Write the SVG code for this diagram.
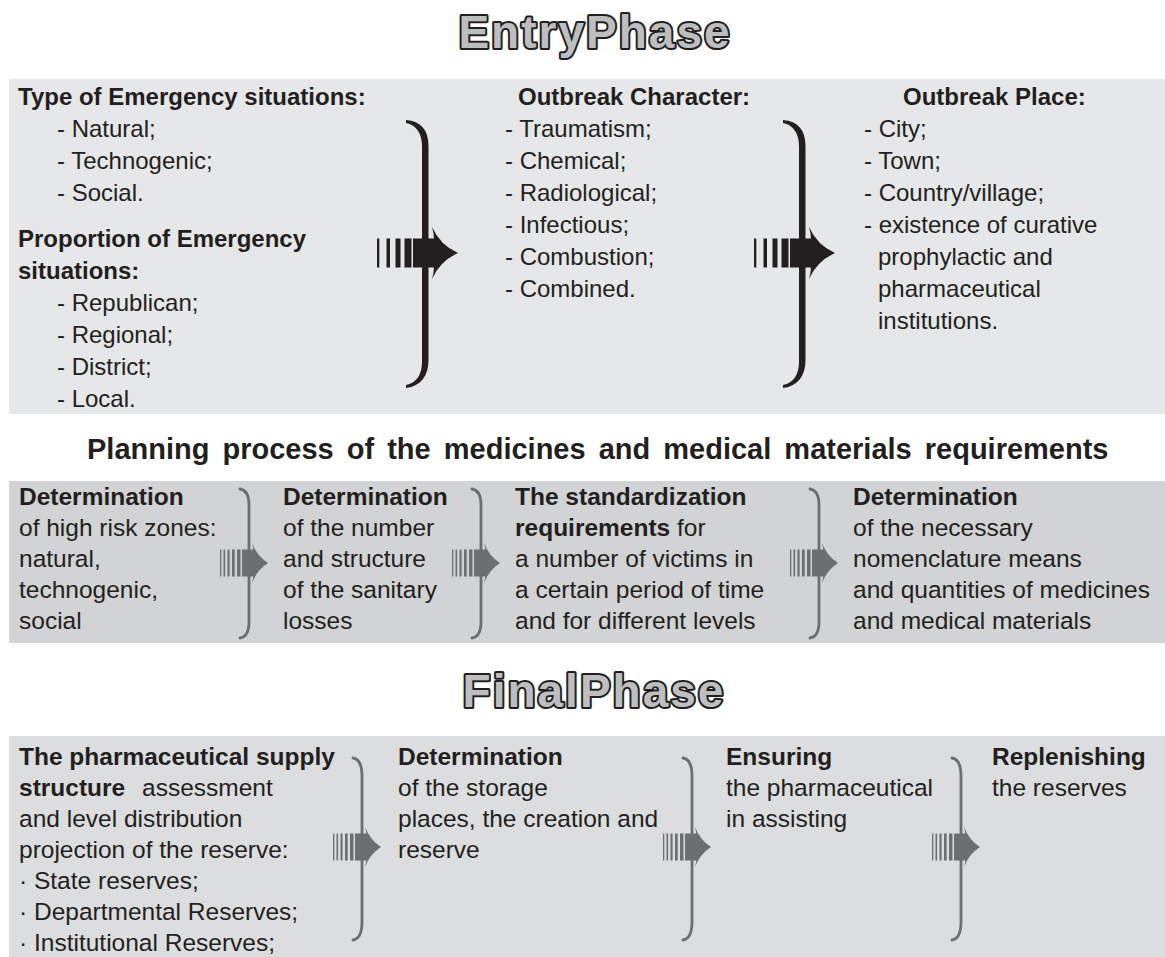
<svg xmlns="http://www.w3.org/2000/svg" xmlns:xlink="http://www.w3.org/1999/xlink" width="1165" height="957" viewBox="0 0 1165 957">
<style>
.t{font-family:"Liberation Sans",Arial,sans-serif;fill:#231f20;font-size:24px}
.s{font-size:24.5px}
.b{font-weight:bold}
.title{font-family:"Liberation Sans",Arial,sans-serif;font-weight:bold;font-size:46px;letter-spacing:2px;fill:#bcbec0;stroke:#231f20;stroke-width:4;stroke-linejoin:round;paint-order:stroke}
.head{font-family:"Liberation Sans",Arial,sans-serif;font-weight:bold;font-size:29px;word-spacing:5px;fill:#231f20}
.bigbrace{fill:#231f20;stroke:none}
.brace{fill:none;stroke:#6d6e71;stroke-width:2.8;stroke-linecap:round}
</style>
<defs>
<g id="bigArrow" fill="#231f20">
<rect x="-81" y="-14.5" width="2.3" height="29"/>
<rect x="-71.5" y="-14.5" width="3.5" height="29"/>
<rect x="-62.5" y="-14.5" width="5" height="29"/>
<rect x="-53.5" y="-14.5" width="7" height="29"/>
<rect x="-45" y="-14.5" width="21" height="29"/>
<path d="M-26,-26 Q-18,-8 0,0 Q-18,8 -26,26 Q-22,13 -26,0 Q-22,-13 -26,-26 Z"/>
</g>
<path id="bigBrace" class="bigbrace" d="M406,120 C421,121 428.5,130 428.5,146 L428.5,238 C428.5,246 431,251 436,253 C431,255 428.5,260 428.5,268 L428.5,360 C428.5,376 421,386 406,388 L406,385 C416,383 422,375 422,362 L422,268 C422,260 424,255 428,253 C424,251 422,246 422,238 L422,146 C422,133 416,125 406,123 Z"/>
<g id="smallArrow" fill="#6d6e71">
<rect x="-48" y="-13.5" width="1.3" height="27"/>
<rect x="-44.5" y="-13.5" width="1.6" height="27"/>
<rect x="-40.5" y="-13.5" width="2.1" height="27"/>
<rect x="-36" y="-13.5" width="2.7" height="27"/>
<rect x="-31" y="-13.5" width="3.5" height="27"/>
<rect x="-26" y="-13.5" width="12" height="27"/>
<path d="M-16,-20 Q-11,-7 0,0 Q-11,7 -16,20 Q-13,10 -16,0 Q-13,-10 -16,-20 Z"/>
</g>
</defs>

<rect id="panel-entry" x="9" y="79" width="1156" height="335" fill="#e6e7e8"/>
<rect id="panel-planning" x="9" y="481" width="1156" height="162" fill="#d1d3d4"/>
<rect id="panel-final" x="9" y="736" width="1156" height="221" fill="#dcdddf"/>

<text id="title-entry" class="title" x="595" y="48" text-anchor="middle">EntryPhase</text>
<text id="title-planning" class="head" x="87" y="459">Planning process of the medicines and medical materials requirements</text>
<text id="title-final" class="title" x="594" y="707" text-anchor="middle">FinalPhase</text>

<g id="node-emergency-type" class="t">
<text class="b" x="18" y="105">Type of Emergency situations:</text>
<text x="57" y="137">- Natural;</text>
<text x="57" y="169">- Technogenic;</text>
<text x="57" y="201">- Social.</text>
<text class="b" x="18" y="247">Proportion of Emergency</text>
<text class="b" x="18" y="279">situations:</text>
<text x="57" y="311">- Republican;</text>
<text x="57" y="343">- Regional;</text>
<text x="57" y="375">- District;</text>
<text x="57" y="407">- Local.</text>
</g>

<g id="node-outbreak-character" class="t">
<text class="b" x="518" y="105">Outbreak Character:</text>
<text x="505" y="137">- Traumatism;</text>
<text x="505" y="169">- Chemical;</text>
<text x="505" y="201">- Radiological;</text>
<text x="505" y="233">- Infectious;</text>
<text x="505" y="265">- Combustion;</text>
<text x="505" y="297">- Combined.</text>
</g>

<g id="node-outbreak-place" class="t">
<text class="b" x="903" y="105">Outbreak Place:</text>
<text x="864" y="137">- City;</text>
<text x="864" y="169">- Town;</text>
<text x="864" y="201">- Country/village;</text>
<text x="864" y="233">- existence of curative</text>
<text x="878" y="265">prophylactic and</text>
<text x="878" y="297">pharmaceutical</text>
<text x="878" y="329">institutions.</text>
</g>

<g id="node-plan-1" class="t s">
<text class="b" x="19" y="505">Determination</text>
<text x="19" y="536">of high risk zones:</text>
<text x="19" y="567">natural,</text>
<text x="19" y="598">technogenic,</text>
<text x="19" y="629">social</text>
</g>
<g id="node-plan-2" class="t s">
<text class="b" x="283" y="505">Determination</text>
<text x="283" y="536">of the number</text>
<text x="283" y="567">and structure</text>
<text x="283" y="598">of the sanitary</text>
<text x="283" y="629">losses</text>
</g>
<g id="node-plan-3" class="t s">
<text class="b" x="515" y="505">The standardization</text>
<text x="515" y="536"><tspan class="b">requirements</tspan> for</text>
<text x="515" y="567">a number of victims in</text>
<text x="515" y="598">a certain period of time</text>
<text x="515" y="629">and for different levels</text>
</g>
<g id="node-plan-4" class="t s">
<text class="b" x="853" y="505">Determination</text>
<text x="853" y="536">of the necessary</text>
<text x="853" y="567">nomenclature means</text>
<text x="853" y="598">and quantities of medicines</text>
<text x="853" y="629">and medical materials</text>
</g>

<g id="node-final-1" class="t s">
<text class="b" x="19" y="765">The pharmaceutical supply</text>
<text x="19" y="796"><tspan class="b">structure</tspan><tspan x="142">assessment</tspan></text>
<text x="19" y="827">and level distribution</text>
<text x="19" y="858">projection of the reserve:</text>
<text x="19" y="889">· State reserves;</text>
<text x="19" y="920">· Departmental Reserves;</text>
<text x="19" y="951">· Institutional Reserves;</text>
</g>
<g id="node-final-2" class="t s">
<text class="b" x="398" y="765">Determination</text>
<text x="398" y="796">of the storage</text>
<text x="398" y="827">places, the creation and</text>
<text x="398" y="858">reserve</text>
</g>
<g id="node-final-3" class="t s">
<text class="b" x="726" y="765">Ensuring</text>
<text x="726" y="796">the pharmaceutical</text>
<text x="726" y="827">in assisting</text>
</g>
<g id="node-final-4" class="t s">
<text class="b" x="992" y="765">Replenishing</text>
<text x="992" y="796">the reserves</text>
</g>

<g id="connectors">
<use xlink:href="#bigBrace"/>
<use xlink:href="#bigArrow" x="458" y="253"/>
<use xlink:href="#bigBrace" x="377" y="0"/>
<use xlink:href="#bigArrow" x="835" y="253"/>

<path class="brace" d="M240,489 C246,490 249,495 249,505 L249,549 C249,558 251,562 255,563 C251,564 249,568 249,577 L249,622 C249,632 246,637 240,638"/>
<use xlink:href="#smallArrow" x="268" y="563"/>
<path class="brace" d="M472,489 C478,490 481,495 481,505 L481,549 C481,558 483,562 487,563 C483,564 481,568 481,577 L481,622 C481,632 478,637 472,638"/>
<use xlink:href="#smallArrow" x="500" y="563"/>
<path class="brace" d="M810,489 C816,490 819,495 819,505 L819,549 C819,558 821,562 825,563 C821,564 819,568 819,577 L819,622 C819,632 816,637 810,638"/>
<use xlink:href="#smallArrow" x="838" y="563"/>

<path class="brace" d="M353,758 C359,759 362,764 362,776 L362,833 C362,842 364,846 368,847 C364,848 362,852 362,861 L362,922 C362,934 359,939 353,940"/>
<use xlink:href="#smallArrow" x="381" y="847"/>
<path class="brace" d="M683,758 C689,759 692,764 692,776 L692,833 C692,842 694,846 698,847 C694,848 692,852 692,861 L692,922 C692,934 689,939 683,940"/>
<use xlink:href="#smallArrow" x="711" y="847"/>
<path class="brace" d="M952,758 C958,759 961,764 961,776 L961,833 C961,842 963,846 967,847 C963,848 961,852 961,861 L961,922 C961,934 958,939 952,940"/>
<use xlink:href="#smallArrow" x="980" y="847"/>
</g>
</svg>
